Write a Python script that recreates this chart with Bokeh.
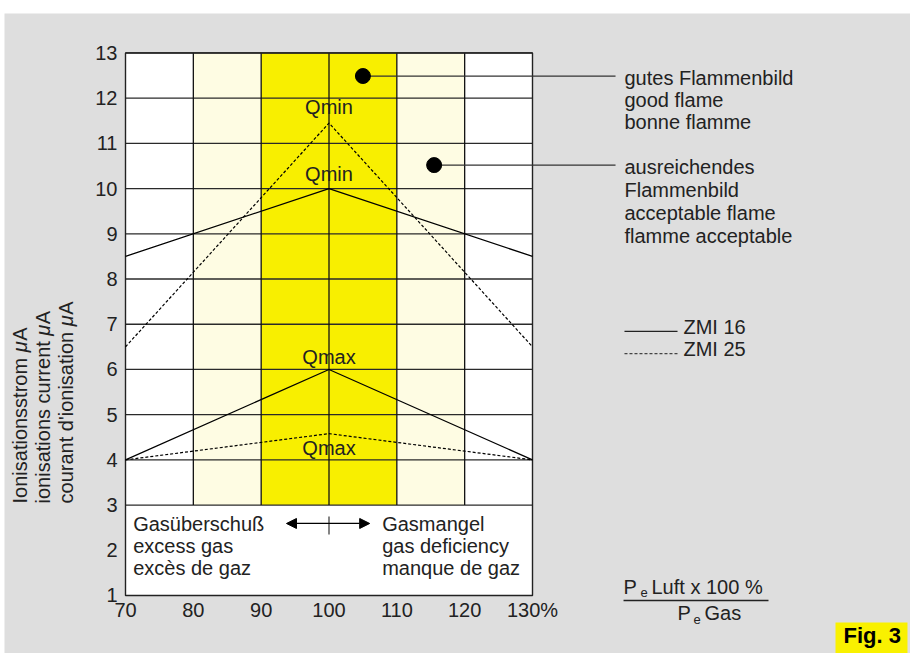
import math
from bokeh.plotting import figure
from bokeh.models import Range1d, FixedTicker, Arrow, NormalHead, Spacer
from bokeh.layouts import column, row
from bokeh.core.properties import value
from bokeh.embed import file_html
from bokeh.resources import INLINE

# ---------------- data ----------------
pct_ticks = [70, 80, 90, 100, 110, 120, 130]
current_ticks = list(range(1, 14))
curve_x = [70, 100, 130]
zmi16_qmin = [8.5, 10.0, 8.5]
zmi25_qmin = [6.5, 11.45, 6.5]
zmi16_qmax = [4.0, 6.0, 4.0]
zmi25_qmax = [4.0, 4.58, 4.0]
band_left = [80, 90, 110]
band_right = [90, 110, 120]
band_kind = ["light", "full", "light"]
flame_x = [105, 115.5]
flame_y = [12.49, 10.52]
good_text = ["gutes Flammenbild", "good flame", "bonne flamme"]
ok_text = ["ausreichendes", "Flammenbild", "acceptable flame", "flamme acceptable"]
excess_text = ["Gasüberschuß", "excess gas", "excès de gaz"]
deficit_text = ["Gasmangel", "gas deficiency", "manque de gaz"]
ylabel_lines = ["Ionisationsstrom μA", "ionisations current μA", "courant d'ionisation μA"]

FONT = value("Liberation Sans")
TXT = "#222222"
GRAY = "#DEDEDE"
YEL = "#F8EF00"
LYEL = "#FEFCE3"
PX = 45.21          # pixels per y unit (for text offsets)
MID = 7.0 / PX      # baseline -> cap-centre offset at 20px

p = figure(width=906, height=640, x_range=Range1d(52.162, 185.725), y_range=Range1d(-0.283, 13.873),
           output_backend="svg", toolbar_location=None,
           min_border_left=0, min_border_right=0, min_border_top=0, min_border_bottom=0)
p.background_fill_color = GRAY
p.border_fill_color = GRAY
p.outline_line_color = None
p.grid.visible = False

for ax in (p.xaxis[0], p.yaxis[0]):
    ax.axis_line_color = None
    ax.major_tick_line_color = None
    ax.minor_tick_line_color = None
    ax.major_tick_out = 0
    ax.major_tick_in = 0
    ax.major_label_text_font = "Liberation Sans"
    ax.major_label_text_font_size = "20px"
    ax.major_label_text_color = TXT
p.xaxis.ticker = FixedTicker(ticks=pct_ticks)
p.xaxis.major_label_overrides = {130: "130%"}
p.xaxis.major_label_standoff = 4
p.xaxis.fixed_location = current_ticks[0]
p.yaxis.ticker = FixedTicker(ticks=current_ticks)
p.yaxis.major_label_standoff = 8
p.yaxis.fixed_location = pct_ticks[0]

x0, x1 = pct_ticks[0], pct_ticks[-1]
ylo, ymid, yhi = current_ticks[0], 3, current_ticks[-1]

# white chart box
p.quad(left=[x0], right=[x1], bottom=[ylo], top=[yhi], fill_color="white", line_color=None, level="underlay")
# bands
p.quad(left=band_left, right=band_right, bottom=[ymid] * 3, top=[yhi] * 3,
       fill_color=[YEL if k == "full" else LYEL for k in band_kind], line_color=None, level="underlay")
# horizontal grid lines 3..13
hy = [v for v in current_ticks if v >= ymid]
p.segment(x0=[x0] * len(hy), y0=hy, x1=[x1] * len(hy), y1=hy, line_color="#2a2a2a", line_width=1.3)
# vertical lines 80..120
vx = pct_ticks[1:-1]
p.segment(x0=vx, y0=[ymid] * len(vx), x1=vx, y1=[yhi] * len(vx), line_color="#111111", line_width=1.3)
# outline
p.quad(left=[x0], right=[x1], bottom=[ylo], top=[yhi], fill_color=None, line_color="#222222", line_width=1.4)

# curves
for ys, dash in ((zmi16_qmin, "solid"), (zmi25_qmin, "3 2"), (zmi16_qmax, "solid"), (zmi25_qmax, "3 2")):
    p.line(curve_x, ys, line_color="black", line_width=1.2, line_dash=dash)


def txt(xs, ys, texts, size="20px", align="left", mid=MID, **kw):
    p.text(x=xs, y=[v + mid for v in ys], text=texts, text_font=FONT, text_font_size=size,
           text_color=kw.pop("color", TXT), text_align=align, text_baseline="middle", **kw)


# Q labels
txt([100] * 4, [11.66, 10.16, 6.13, 4.10], ["Qmin", "Qmin", "Qmax", "Qmax"], align="center")

# flame points and leader lines
p.segment(x0=flame_x, y0=flame_y, x1=[142.24] * 2, y1=flame_y, line_color="#333333", line_width=1.2)
p.scatter(flame_x, flame_y, size=15, color="black")

tx = 143.56
txt([tx] * 3, [12.30, 11.81, 11.32], good_text)
txt([tx] * 4, [10.33, 9.81, 9.31, 8.80], ok_text)

# legend
p.line([143.56, 151.38], [6.84, 6.84], line_color="#222222", line_width=1.3)
p.line([143.56, 151.38], [6.35, 6.35], line_color="#444444", line_width=1.3, line_dash="3 2")
txt([152.26, 152.26], [6.79, 6.29], ["ZMI 16", "ZMI 25"])

# bottom box texts
txt([71.13] * 3, [2.416, 1.929, 1.464], excess_text)
txt([107.84] * 3, [2.416, 1.929, 1.464], deficit_text)
p.add_layout(Arrow(start=NormalHead(size=10, fill_color="black", line_color="black"),
                   end=NormalHead(size=10, fill_color="black", line_color="black"),
                   x_start=93.73, y_start=2.593, x_end=106.0, y_end=2.593, line_width=1.3))
p.segment(x0=[100], y0=[2.349], x1=[100], y1=[2.747], line_color="#333333", line_width=1.2)

# rotated y-axis labels (the "μ" in italics); widths are Liberation Sans advance widths at 20px
ylab_x = [54.52, 57.91, 61.30]
ylab_y0 = 3.035
base_w = [151.16, 167.84, 177.24]
mu_w = 11.52
for xx, line, bw in zip(ylab_x, ylabel_lines, base_w):
    base, mu, a = line[:-2], line[-2], line[-1]
    for t, off, style in ((base, 0.0, "normal"), (mu, bw, "italic"), (a, bw + mu_w, "normal")):
        p.text(x=[xx], y=[ylab_y0 + off / PX], text=[t], angle=math.pi / 2, text_align="left",
               text_baseline="middle", text_font=FONT, text_font_size="20px", text_font_style=style,
               text_color=TXT)

# formula below
txt([143.42, 147.54, 151.38, 155.36], [1.044, 1.044, 0.447, 0.447], ["P", "Luft x 100 %", "P", "Gas"])
txt([145.92, 153.73], [0.956, 0.359], ["e", "e"], size="13px", mid=4.6 / PX)
p.segment(x0=[143.42], y0=[0.889], x1=[164.79], y1=[0.889], line_color="#222222", line_width=1.5)

# Fig. 3 box
p.quad(left=[174.67], right=[185.28], bottom=[-0.283], top=[0.403], fill_color="#F9F100", line_color=None)
txt([175.85], [-0.062], ["Fig. 3"], size="22px", mid=7.9 / PX, text_font_style="bold", color="black")

layout = column(Spacer(width=910, height=13), row(Spacer(width=4, height=640), p))
open("out.html", "w").write(file_html(layout, INLINE))
